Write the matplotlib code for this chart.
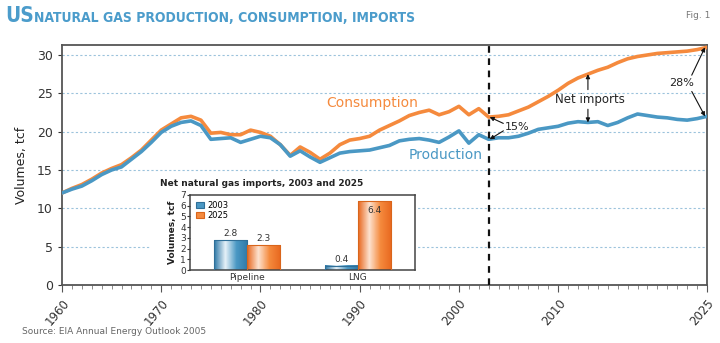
import matplotlib.pyplot as plt
import numpy as np
from matplotlib import font_manager
from matplotlib.colors import LinearSegmentedColormap

# Annual series (tcf), 1960-2003 history, 2004-2025 projection
years = np.arange(1960, 2026)
production = [12.0, 12.5, 12.9, 13.6, 14.4, 15.0, 15.4, 16.4, 17.4, 18.6,
              19.9, 20.7, 21.2, 21.4, 20.8, 19.0, 19.1, 19.2, 18.6, 19.0,
              19.4, 19.2, 18.3, 16.8, 17.5, 16.7, 16.0, 16.6, 17.2, 17.4,
              17.5, 17.6, 17.9, 18.2, 18.8, 19.0, 19.1, 18.9, 18.6, 19.3,
              20.1, 18.5, 19.6, 19.0, 19.2, 19.2, 19.4, 19.8, 20.3, 20.5,
              20.7, 21.1, 21.3, 21.2, 21.3, 20.8, 21.2, 21.8, 22.3, 22.1,
              21.9, 21.8, 21.6, 21.5, 21.7, 22.0]
consumption = [12.0, 12.6, 13.1, 13.8, 14.6, 15.2, 15.7, 16.6, 17.6, 18.9,
               20.2, 21.0, 21.8, 22.0, 21.5, 19.8, 19.9, 19.6, 19.6, 20.2,
               19.9, 19.4, 18.3, 16.9, 18.0, 17.3, 16.4, 17.2, 18.3, 18.9,
               19.1, 19.4, 20.2, 20.8, 21.4, 22.1, 22.5, 22.8, 22.2, 22.6,
               23.3, 22.2, 23.0, 21.9, 22.0, 22.2, 22.7, 23.2, 23.9, 24.6,
               25.4, 26.3, 27.0, 27.5, 28.0, 28.4, 29.0, 29.5, 29.8, 30.0,
               30.2, 30.3, 30.4, 30.5, 30.7, 31.0]

# Inset: net imports by route
routes = ['Pipeline', 'LNG']
imports_2003 = [2.8, 0.4]
imports_2025 = [2.3, 6.4]

xtick_years = [1960, 1970, 1980, 1990, 2000, 2010, 2025]

blue = '#4a98c4'
orange = '#f58a3d'
title_blue = '#4b9ccb'

# condensed face for the headline if one is installed
fonts = font_manager.fontManager.ttflist
if any(f.name == 'Liberation Sans Narrow' for f in fonts):
    head = dict(family='Liberation Sans Narrow')
    head_size, us_size = 12, 18
elif any(f.name == 'DejaVu Sans' and str(f.stretch) in ('condensed', '300') for f in fonts):
    head = dict(family='DejaVu Sans', fontstretch='condensed')
    head_size, us_size = 10, 15
else:
    head = dict(family='DejaVu Sans')
    head_size, us_size = 8.0, 12

fig = plt.figure(figsize=(7.2, 3.43), dpi=100)
W, H = 720, 343

def frac(x0, y0, x1, y1):
    # pixel box (top-left origin) -> figure fraction rect
    return [x0 / W, 1 - y1 / H, (x1 - x0) / W, (y1 - y0) / H]

ax = fig.add_axes(frac(62, 45, 707, 285))
ax.plot(years, consumption, color=orange, lw=2.6, zorder=3)
ax.plot(years, production, color=blue, lw=2.6, zorder=3)
ax.set_xlim(1960, 2025)
ax.set_ylim(0, 31.3)
ax.set_yticks(range(0, 31, 5))
ax.set_xticks(xtick_years)
ax.set_xticks(years, minor=True)
ax.set_xticklabels([str(y) for y in xtick_years], rotation=50, ha='right',
                   rotation_mode='anchor', fontsize=8.5, color='#333333')
ax.tick_params(axis='y', labelsize=9, colors='#333333', length=3)
ax.tick_params(axis='x', which='major', length=5, color='#555555')
ax.tick_params(axis='x', which='minor', length=3, color='#777777')
for y in range(5, 31, 5):
    ax.axhline(y, color='#9cc3dc', lw=0.8, ls=(0, (2, 2)), zorder=1)
for s in ax.spines.values():
    s.set_color('#555555')
    s.set_linewidth(1.3)
ax.set_ylabel('Volumes, tcf', fontsize=9, color='#222222')
ax.yaxis.set_label_coords(-0.052, 0.5)

ax.axvline(2003, color='#111111', lw=1.6, ls=(0, (3, 2.5)), zorder=4)

ax.text(1991.3, 23.8, 'Consumption', color=orange, fontsize=10, ha='center', va='center')
ax.text(1998.7, 16.9, 'Production', color=blue, fontsize=10, ha='center', va='center')

arrow = dict(arrowstyle='-|>', lw=0.8, color='#111111', mutation_scale=6,
             shrinkA=1, shrinkB=0)
c = dict(zip(years, consumption))
p = dict(zip(years, production))
ax.text(2013.2, 24.2, 'Net imports', fontsize=8.5, ha='center', va='center', color='#222222')
ax.annotate('', xy=(2013, c[2013]), xytext=(2013, 25.3), arrowprops=arrow)
ax.annotate('', xy=(2013, p[2013]), xytext=(2013, 23.1), arrowprops=arrow)

ax.text(2005.9, 20.6, '15%', fontsize=8, ha='center', va='center', color='#222222')
ax.annotate('', xy=(2003.1, c[2003]), xytext=(2004.6, 21.0), arrowprops=arrow)
ax.annotate('', xy=(2003.1, p[2003]), xytext=(2004.6, 20.2), arrowprops=arrow)

ax.text(2022.4, 26.3, '28%', fontsize=8, ha='center', va='center', color='#222222')
ax.annotate('', xy=(2024.8, c[2025]), xytext=(2023.4, 27.2), arrowprops=arrow)
ax.annotate('', xy=(2024.8, p[2025]), xytext=(2023.4, 25.4), arrowprops=arrow)

# white panel behind the inset
bg = fig.add_axes(frac(150, 174, 418, 284))
bg.set_axis_off()
bg.add_patch(plt.Rectangle((0, 0), 1, 1, transform=bg.transAxes, color='white', zorder=0))
bg.set_zorder(5)

ins = fig.add_axes(frac(190, 195, 415, 270))
ins.set_zorder(6)
x = np.arange(len(routes))
w = 0.3
b1 = ins.bar(x - w / 2, imports_2003, w, color=blue, edgecolor='#2f6f98', lw=0.8, label='2003')
b2 = ins.bar(x + w / 2, imports_2025, w, color=orange, edgecolor='#d9651b', lw=0.8, label='2025')
ins.legend(loc='upper left', fontsize=6, frameon=False, handlelength=1, handleheight=0.8,
           borderaxespad=0.3, labelspacing=0.1, handletextpad=0.4)

# shaded (cylinder-like) fill inside each bar
grad = np.linspace(0, 1, 64).reshape(1, -1)
for bars, dark, light, base in ((b1, '#2f79a8', '#e6f1f8', blue), (b2, '#e8681f', '#fde2cf', orange)):
    cmap = LinearSegmentedColormap.from_list('', [dark, light, base, dark])
    for r in bars:
        ins.imshow(grad, extent=(r.get_x(), r.get_x() + r.get_width(), 0, r.get_height()),
                   cmap=cmap, aspect='auto', zorder=2.5, interpolation='bilinear')
        r.set_facecolor('none')
        r.set_zorder(3)

ins.set_xlim(-0.52, 1.52)
ins.set_ylim(0, 7)
ins.set_yticks(range(0, 8))
ins.set_xticks(x)
ins.set_xticklabels(routes)
ins.tick_params(axis='both', labelsize=6.5, length=2, pad=1, colors='#333333')
ins.tick_params(axis='x', length=0, pad=2)
for s in ins.spines.values():
    s.set_color('#444444')
    s.set_linewidth(1.1)
ins.set_ylabel('Volumes, tcf', fontsize=6.5, fontweight='bold', color='#222222', labelpad=2)
for r, v in zip(b1, imports_2003):
    ins.text(r.get_x() + r.get_width() / 2, v + 0.2, f'{v}', ha='center', va='bottom',
             fontsize=6.5, color='#333333')
for r, v in zip(b2, imports_2025):
    inside = v > 5
    ins.text(r.get_x() + r.get_width() / 2, v - 0.4 if inside else v + 0.2, f'{v}',
             ha='center', va='top' if inside else 'bottom', fontsize=6.5, color='#333333')
fig.text(160 / W, 1 - 183 / H, 'Net natural gas imports, 2003 and 2025', fontsize=6.5,
         fontweight='bold', va='center', ha='left', color='#222222', zorder=10)

# title and footer
fig.text(5 / W, 1 - 16 / H, 'US', fontsize=us_size, fontweight='bold', color=title_blue,
         va='center', ha='left', **head)
fig.text(34 / W, 1 - 18 / H, 'NATURAL GAS PRODUCTION, CONSUMPTION, IMPORTS', fontsize=head_size,
         fontweight='bold', color=title_blue, va='center', ha='left', **head)
fig.text(698 / W, 1 - 15 / H, 'Fig. 1', fontsize=6.5, color='#777777', va='center', ha='center')
fig.text(22 / W, 1 - 331 / H, 'Source: EIA Annual Energy Outlook 2005', fontsize=6.5,
         color='#666666', va='center', ha='left')

fig.savefig('out.png', dpi=100)
